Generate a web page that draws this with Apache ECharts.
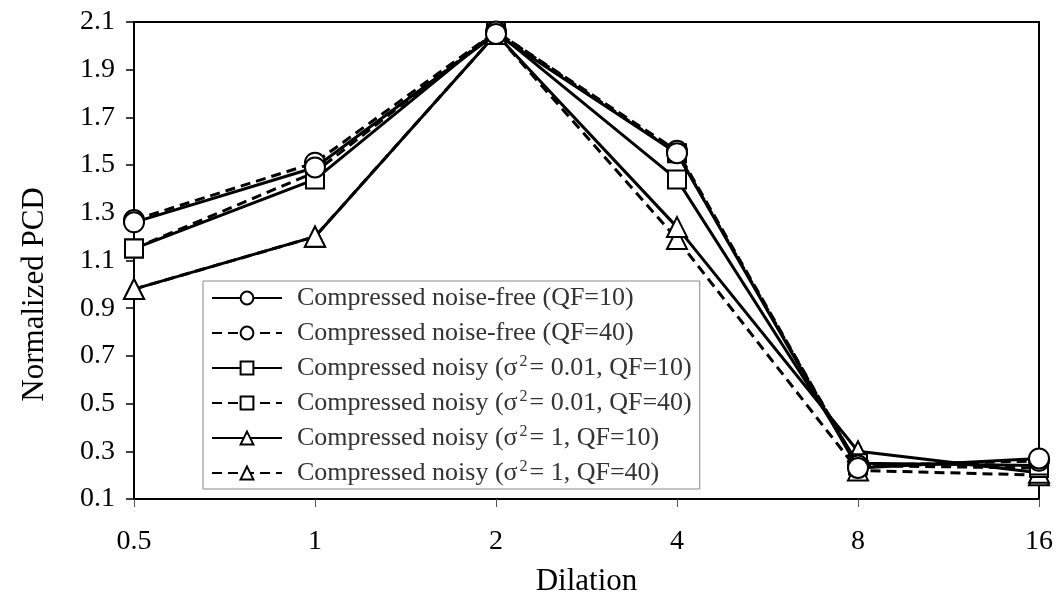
<!DOCTYPE html>
<html>
<head>
<meta charset="utf-8">
<script src="https://cdn.jsdelivr.net/npm/echarts@6/dist/echarts.min.js"></script>
<style>html,body{margin:0;padding:0;background:#fff}#c{width:1059px;height:606px}</style>
</head>
<body>
<div id="c"></div>
<script>
var categories = ['0.5', '1', '2', '4', '8', '16'];
var yTicks = [0.1, 0.3, 0.5, 0.7, 0.9, 1.1, 1.3, 1.5, 1.7, 1.9, 2.1];
var freeQF10 = [1.26, 1.49, 2.05, 1.55, 0.23, 0.27];
var freeQF40 = [1.27, 1.51, 2.06, 1.56, 0.24, 0.26];
var noisy001QF10 = [1.15, 1.44, 2.06, 1.44, 0.25, 0.24];
var noisy001QF40 = [1.15, 1.47, 2.06, 1.55, 0.24, 0.23];
var noisy1QF10 = [0.98, 1.20, 2.05, 1.24, 0.30, 0.21];
var noisy1QF40 = [0.98, 1.20, 2.05, 1.19, 0.22, 0.20];
var names = [
  'Compressed noise-free (QF=10)',
  'Compressed noise-free (QF=40)',
  'Compressed noisy (σ{s|2}= 0.01, QF=10)',
  'Compressed noisy (σ{s|2}= 0.01, QF=40)',
  'Compressed noisy (σ{s|2}= 1, QF=10)',
  'Compressed noisy (σ{s|2}= 1, QF=40)'
];
var FONT = 'Liberation Serif';
function mk(i, data, symbol, size, dashed) {
  return {
    name: names[i], type: 'line', data: data, symbol: symbol, symbolSize: size,
    lineStyle: {color: '#000', width: 3, type: dashed ? [10, 6] : 'solid'},
    itemStyle: {color: '#fff', borderColor: '#000', borderWidth: 2},
    z: 10 - i
  };
}
var chart = echarts.init(document.getElementById('c'), null, {renderer: 'canvas'});
chart.setOption({
  animation: false,
  backgroundColor: '#fff',
  grid: {left: 134, right: 20, top: 22, bottom: 107, show: true, borderColor: '#000', borderWidth: 2, backgroundColor: 'transparent'},
  xAxis: {
    type: 'category', data: categories, boundaryGap: false,
    name: 'Dilation', nameLocation: 'middle', nameGap: 67,
    nameTextStyle: {fontFamily: FONT, fontSize: 31, color: '#000'},
    axisLine: {lineStyle: {color: '#000', width: 2}},
    axisTick: {show: true, inside: false, length: 8, alignWithLabel: true, lineStyle: {color: '#555', width: 1}},
    axisLabel: {fontFamily: FONT, fontSize: 28, color: '#000', margin: 29},
    splitLine: {show: false}
  },
  yAxis: {
    type: 'value', min: 0.1, max: 2.1,
    name: 'Normalized PCD', nameLocation: 'middle', nameGap: 84,
    nameTextStyle: {fontFamily: FONT, fontSize: 31, color: '#000', padding: [0, 68, 0, 0]},
    axisLine: {show: true, lineStyle: {color: '#000', width: 2}},
    axisTick: {show: true, length: 8, customValues: yTicks, lineStyle: {color: '#000', width: 1.5}},
    axisLabel: {fontFamily: FONT, fontSize: 28, color: '#000', margin: 19, customValues: yTicks,
      formatter: function (v) { return v.toFixed(1); }},
    splitLine: {show: false}
  },
  legend: {
    orient: 'vertical', left: 203, top: 281,
    backgroundColor: '#fff', borderColor: '#888', borderWidth: 1,
    padding: [3, 8, 2, 8], itemGap: 7, itemWidth: 70, itemHeight: 16,
    data: names,
    textStyle: {fontFamily: FONT, fontSize: 26, color: '#333', lineHeight: 28, padding: [0, 0, 0, 10],
      rich: {s: {fontFamily: FONT, fontSize: 16, color: '#333', lineHeight: 6, verticalAlign: 'top', padding: [0, 2, 0, 2]}}}
  },
  series: [
    mk(0, freeQF10, 'circle', 20, false),
    mk(1, freeQF40, 'circle', 20, true),
    mk(2, noisy001QF10, 'rect', 18, false),
    mk(3, noisy001QF40, 'rect', 18, true),
    mk(4, noisy1QF10, 'triangle', 20, false),
    mk(5, noisy1QF40, 'triangle', 20, true)
  ]
});
</script>
</body>
</html>
